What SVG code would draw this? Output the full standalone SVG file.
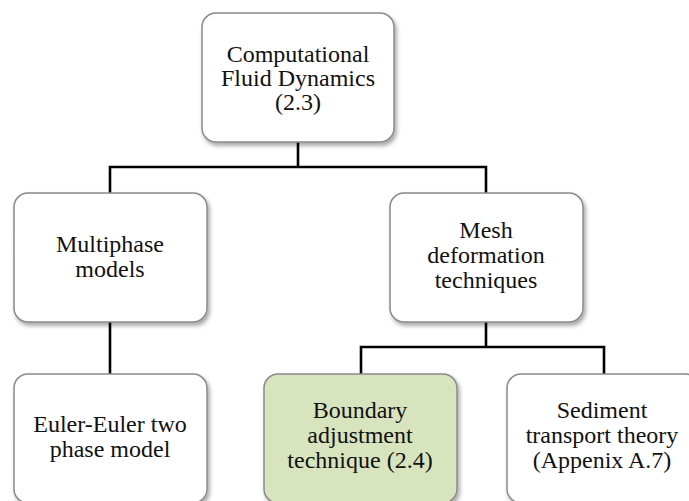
<svg xmlns="http://www.w3.org/2000/svg" width="689" height="501" viewBox="0 0 689 501">
  <style>
    .box { fill: #ffffff; stroke: #8a8a8a; stroke-width: 1.5; filter: url(#shadow); }
    .hl { fill: #d7e4bd; }
    .label { font-family: "Liberation Serif", "Times New Roman", serif; font-size: 24px; fill: #111111; text-anchor: middle; }
    .wire { fill: none; stroke: #000000; stroke-width: 2.6; stroke-linecap: square; stroke-linejoin: miter; }
  </style>
  <defs>
    <filter id="shadow" x="-10%" y="-10%" width="125%" height="130%">
      <feDropShadow dx="2" dy="3" stdDeviation="2" flood-color="#000000" flood-opacity="0.35"/>
    </filter>
  </defs>
  <rect width="689" height="501" fill="#ffffff"/>

  <!-- tree connectors -->
  <g id="connectors">
    <path class="wire" d="M298 143 V167 M110 167 H486 M110 167 V192 M486 167 V192"/>
    <path class="wire" d="M110 323 V373"/>
    <path class="wire" d="M486 323 V347 M361 347 H604 M361 347 V373 M604 347 V373"/>
  </g>

  <g id="cfd">
    <rect class="box" x="202" y="13" width="192" height="129" rx="14"/>
    <text class="label" x="298" y="62">Computational</text>
    <text class="label" x="298" y="86">Fluid Dynamics</text>
    <text class="label" x="298" y="110">(2.3)</text>
  </g>

  <g id="multiphase">
    <rect class="box" x="14" y="193" width="193" height="129" rx="14"/>
    <text class="label" x="110" y="252">Multiphase</text>
    <text class="label" x="110" y="277">models</text>
  </g>

  <g id="mesh">
    <rect class="box" x="390" y="193" width="193" height="129" rx="14"/>
    <text class="label" x="486" y="238">Mesh</text>
    <text class="label" x="486" y="263">deformation</text>
    <text class="label" x="486" y="288">techniques</text>
  </g>

  <g id="euler">
    <rect class="box" x="14" y="374" width="193" height="129" rx="14"/>
    <text class="label" x="110" y="432">Euler-Euler two</text>
    <text class="label" x="110" y="457">phase model</text>
  </g>

  <g id="boundary">
    <rect class="box hl" x="264" y="374" width="193" height="129" rx="14"/>
    <text class="label" x="360" y="418">Boundary</text>
    <text class="label" x="360" y="443">adjustment</text>
    <text class="label" x="360" y="468">technique (2.4)</text>
  </g>

  <g id="sediment">
    <rect class="box" x="507" y="374" width="193" height="129" rx="14"/>
    <text class="label" x="602" y="418">Sediment</text>
    <text class="label" x="602" y="443">transport theory</text>
    <text class="label" x="602" y="468">(Appenix A.7)</text>
  </g>
</svg>
